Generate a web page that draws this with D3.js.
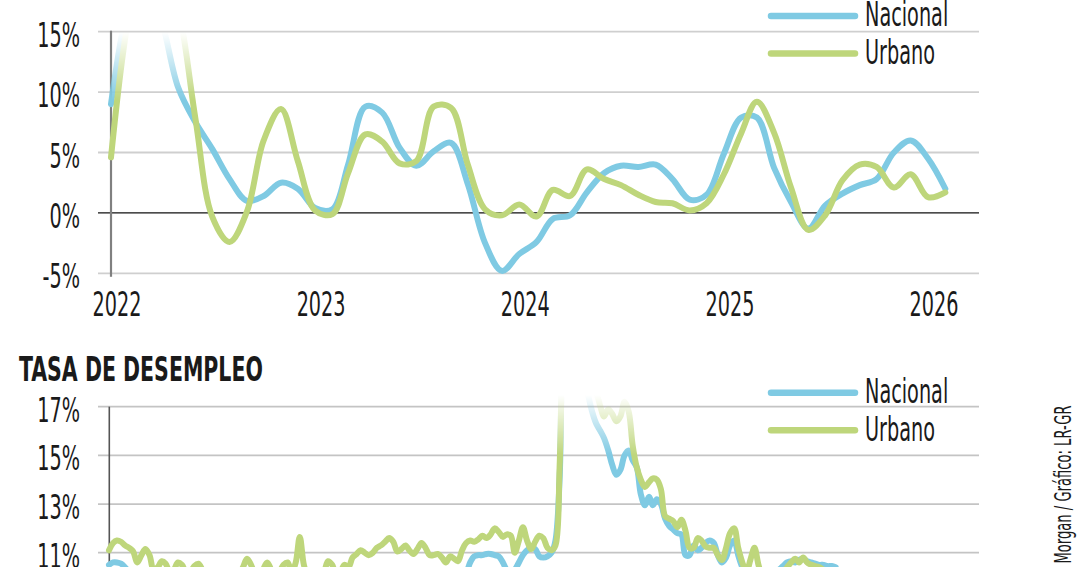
<!DOCTYPE html>
<html><head><meta charset="utf-8">
<script src="https://cdn.jsdelivr.net/npm/d3@7"></script>
<style>
html,body{margin:0;padding:0;background:#fff;}
svg{display:block;}
text{font-family:"Liberation Sans Narrow","DejaVu Sans Condensed","Liberation Sans",sans-serif;fill:#1a1a1a;}
</style></head><body>
<svg id="chart" width="1080" height="567"></svg>
<script>
// ---------- DATA ----------
const seriesNames = ["Nacional", "Urbano"];
const seriesColors = ["#7fcae3", "#bed67b"];

// Top panel: monthly, Jan 2022 - Feb 2026 (%)
const topStart = new Date(2022, 0, 1);
const topEnd = new Date(2026, 2, 1);
const topNacional = [
  9.0, 17, 19.5, 16, 10.4, 7.5, 5.3, 2.8, 1.0, 1.4, 2.5, 2.0,
  0.4, 0.3, 4.0, 8.8, 8.3, 5.4, 3.9, 5.1, 5.8, 2.4, -2.5, -4.8,
  -3.4, -2.4, -0.5, -0.2, 1.7, 3.3, 3.9, 3.8, 4.0, 2.8, 1.1, 1.5,
  4.9, 7.9, 7.9, 3.7, 0.9, -1.3, 0.6, 1.6, 2.3, 2.8, 5.0, 6.0,
  4.5, 2.0
];
const topUrbano = [
  4.6, 16, 21, 21, 17, 7.8, -0.3, -2.4, 0.1, 6.0, 8.6, 4.3,
  0.2, -0.1, 3.3, 6.5, 5.9, 4.1, 4.3, 8.8, 8.7, 4.0, 0.3, -0.2,
  0.7, -0.3, 1.9, 1.4, 3.6, 2.8, 2.3, 1.5, 0.9, 0.8, 0.2, 0.8,
  3.2, 6.6, 9.2, 6.6, 2.1, -1.4, -0.2, 2.7, 4.0, 3.8, 2.1, 3.2,
  1.3, 1.7
];
const topYears = [2022, 2023, 2024, 2025, 2026];
const topYTicks = [-5, 0, 5, 10, 15];

// Bottom panel: unemployment rate, monthly Jan 2011 - Dec 2025 (%)
const bottomTitle = "TASA DE DESEMPLEO";
const bottomStart = new Date(2011, 0, 1);
const bottomEnd = new Date(2026, 0, 1);
const bottomNacional = [
  10.5, 10.6, 10.6, 10.55, 10.4, 10.2, 10.0, 9.9, 9.8, 9.8, 9.9, 9.7,
  9.8, 9.9, 9.8, 9.7, 9.6, 9.7, 9.8, 9.6, 9.5, 9.6, 9.5, 9.4,
  9.5, 9.3, 9.4, 9.2, 9.3, 9.1, 9.2, 9.0, 9.1, 9.0, 8.9, 9.0,
  8.9, 8.8, 8.9, 8.8, 8.9, 9.0, 8.9, 9.0, 9.1, 9.0, 9.2, 9.4,
  9.2, 9.0, 9.1, 9.0, 9.2, 9.3, 9.2, 9.3, 9.2, 9.1, 9.2, 9.3,
  9.4, 9.5, 9.6, 9.5, 9.4, 9.5, 9.6, 9.7, 9.8, 9.9, 9.8, 9.6,
  9.7, 9.8, 9.7, 9.6, 9.7, 9.8, 9.7, 9.6, 9.7, 9.6, 9.5, 9.4,
  9.6, 9.5, 9.4, 9.7, 10.1, 10.6, 10.85, 10.9, 10.9, 10.95, 10.95, 10.9,
  10.85, 10.6, 10.3, 10.15, 10.3, 10.6, 10.9, 11.1, 11.2, 11.15, 10.85, 10.8,
  10.85, 11.0, 11.5, 14.0, 20.5, 21.5, 21.0, 20.0, 19.5, 18.5, 17.5, 16.8,
  16.3, 16.0, 15.7, 15.2, 14.6, 14.2, 14.4, 15.0, 15.2, 14.8, 14.5, 13.4,
  12.95, 13.3, 12.95, 13.2, 13.0, 12.4, 12.1, 11.95, 11.8, 11.75, 10.9, 10.9,
  11.3, 11.1, 11.2, 11.4, 11.5, 11.4, 10.9, 10.6, 10.8, 11.3, 11.5, 10.9,
  10.4, 10.1, 10.0, 10.1, 10.0, 9.9, 10.0, 10.1, 10.2, 10.3, 10.45, 10.6,
  10.65, 10.6, 10.7, 10.75, 10.65, 10.6, 10.55, 10.5, 10.5, 10.45, 10.45, 10.4
];
const bottomUrbano = [
  11.1, 11.4, 11.5, 11.45, 11.3, 11.2, 11.05, 10.6, 10.9, 11.15, 10.9, 10.3,
  10.4, 10.65, 10.55, 10.2, 10.3, 10.6, 10.5, 10.2, 10.2, 10.45, 10.55, 10.3,
  10.0, 9.9, 9.8, 9.9, 10.0, 9.9, 9.8, 9.9, 10.1, 10.4, 10.75, 10.5,
  10.1, 10.0, 10.3, 10.6, 10.3, 10.0, 10.2, 10.5, 10.6, 10.2, 10.6, 11.65,
  10.5, 10.0, 9.9, 10.0, 10.0, 10.2, 10.65, 10.5, 10.1, 10.2, 10.5, 10.4,
  10.8, 10.95, 11.1, 11.0, 10.9, 11.0, 11.2, 11.3, 11.45, 11.6, 11.45, 11.05,
  11.15, 11.3, 11.1, 10.95, 11.15, 11.4, 11.2, 10.9, 10.9, 10.95, 10.8, 10.6,
  10.85, 10.75, 10.65, 11.1, 11.4, 11.5, 11.45, 11.55, 11.7, 11.6, 11.75, 12.0,
  11.85, 11.65, 11.75, 11.7, 11.0, 11.5, 12.05, 11.5, 11.15, 11.45, 11.7, 11.6,
  11.2, 11.1, 11.3, 14.5, 21.5, 24.0, 23.5, 22.0, 21.0, 19.5, 18.5, 18.0,
  17.6, 17.0, 16.6, 16.9, 16.7, 16.4, 16.6, 17.2, 16.8, 15.4, 14.5, 14.0,
  13.7, 13.9, 14.05, 14.0, 13.6, 12.5, 12.4, 12.3, 12.05, 12.35, 11.9, 11.2,
  11.2, 11.6, 11.5, 11.25, 11.2, 11.2, 10.9, 10.7, 11.2, 11.8, 12.0, 11.2,
  10.6, 10.2, 10.7, 11.2, 10.5, 10.0, 9.9, 9.8, 9.9, 10.0, 10.2, 10.4,
  10.6, 10.75, 10.6, 10.8, 10.6, 10.5, 10.45, 10.4, 10.3, 10.25, 10.2, 10.2
];
const bottomYTicks = [11, 13, 15, 17];
const sourceText = "Morgan / Gráfico: LR-GR";

// ---------- DRAW ----------
const svg = d3.select("#chart");
const defs = svg.append("defs");

// condensed-font width factor, measured from a sample
function measure(str, size, weight) {
  const t = svg.append("text").attr("font-size", size).attr("font-weight", weight || "normal").text(str);
  const w = t.node().getComputedTextLength();
  t.remove();
  return w;
}
const sx = 49 / measure("2022", 33);
const sxBold = 244 / measure(bottomTitle, 34, "bold");

function addText(g, str, x, y, opt) {
  opt = opt || {};
  const s = opt.scale || sx;
  const rot = opt.rotate ? ` rotate(${opt.rotate})` : "";
  return g.append("text")
    .attr("transform", `translate(${x},${y})${rot} scale(${s},1)`)
    .attr("font-size", opt.size || 33)
    .attr("font-weight", opt.weight || "normal")
    .attr("text-anchor", opt.anchor || "start")
    .text(str);
}

function fadeMask(id, yClip, y0, y1, yBottom) {
  const gid = id + "-grad";
  const grad = defs.append("linearGradient").attr("id", gid)
    .attr("gradientUnits", "userSpaceOnUse")
    .attr("x1", 0).attr("x2", 0).attr("y1", y0).attr("y2", y1);
  grad.append("stop").attr("offset", 0).attr("stop-color", "#000");
  grad.append("stop").attr("offset", 1).attr("stop-color", "#fff");
  defs.append("mask").attr("id", id).attr("maskUnits", "userSpaceOnUse")
    .attr("x", 0).attr("y", 0).attr("width", 1080).attr("height", 567)
    .append("rect").attr("x", 0).attr("y", yClip).attr("width", 1080)
    .attr("height", yBottom - yClip).attr("fill", `url(#${gid})`);
}

const gridX1 = 98, gridX2 = 979;

// ===== TOP PANEL =====
const topDates = d3.timeMonth.range(topStart, topEnd);
const xTop = d3.scaleTime().domain([new Date(2022, 0, 1), new Date(2026, 0, 1)]).range([111, 928]);
const yTop = d3.scaleLinear().domain([-5, 15]).range([273.3, 31.7]);

const gTop = svg.append("g");
topYTicks.forEach(v => {
  gTop.append("line")
    .attr("x1", gridX1).attr("x2", gridX2)
    .attr("y1", yTop(v)).attr("y2", yTop(v))
    .attr("stroke", v === 0 ? "#111" : "#cfcfcf")
    .attr("stroke-width", v === 0 ? 1.3 : 1.8);
  addText(gTop, (v < 0 ? "-" + Math.abs(v) : v) + "%", 80, yTop(v) + 15, { anchor: "end" });
});
gTop.append("line").attr("x1", 111).attr("x2", 111)
  .attr("y1", yTop(15) - 1).attr("y2", yTop(-5) + 3.5)
  .attr("stroke", "#808080").attr("stroke-width", 2.2);
topYears.forEach(yr => {
  addText(gTop, String(yr), xTop(new Date(yr, 0, 1)) + 6, 315.7, { anchor: "middle" });
});

fadeMask("maskTop", 30, 32, 100, 300);
const lineTop = d3.line().x((d, i) => xTop(topDates[i])).y(d => yTop(d)).curve(d3.curveCatmullRom.alpha(0.5));
const gTopLines = gTop.append("g").attr("mask", "url(#maskTop)");
[topNacional, topUrbano].forEach((arr, k) => {
  gTopLines.append("path").datum(arr).attr("d", lineTop)
    .attr("fill", "none").attr("stroke", seriesColors[k])
    .attr("stroke-width", 6).attr("stroke-linecap", "round").attr("stroke-linejoin", "round");
});

// legend top
const legTopY = [16, 53.4];
seriesNames.forEach((n, k) => {
  gTop.append("line").attr("x1", 771).attr("x2", 855)
    .attr("y1", legTopY[k]).attr("y2", legTopY[k])
    .attr("stroke", seriesColors[k]).attr("stroke-width", 6.5).attr("stroke-linecap", "round");
  addText(gTop, n, 865, legTopY[k] + 10.3);
});

// ===== BOTTOM PANEL =====
const botDates = d3.timeMonth.range(bottomStart, bottomEnd);
const xBot = d3.scaleTime().domain([new Date(2011, 0, 1), new Date(2025, 11, 1)]).range([109, 835.7]);
const yBot = d3.scaleLinear().domain([11, 17]).range([552.7, 406.7]);

const gBot = svg.append("g");
addText(gBot, bottomTitle, 19, 381, { size: 34, weight: "bold", scale: sxBold });
bottomYTicks.forEach(v => {
  gBot.append("line")
    .attr("x1", gridX1).attr("x2", gridX2)
    .attr("y1", yBot(v)).attr("y2", yBot(v))
    .attr("stroke", "#c4c4c4").attr("stroke-width", 1.8);
  addText(gBot, v + "%", 80, yBot(v) + 15, { anchor: "end" });
});
gBot.append("line").attr("x1", 109.3).attr("x2", 109.3)
  .attr("y1", yBot(17)).attr("y2", 600)
  .attr("stroke", "#555").attr("stroke-width", 1.6);

fadeMask("maskBot", 392, 395, 455, 620);
const lineBot = d3.line().x((d, i) => xBot(botDates[i])).y(d => yBot(d)).curve(d3.curveCatmullRom.alpha(0.5));
const gBotLines = gBot.append("g").attr("mask", "url(#maskBot)");
[bottomNacional, bottomUrbano].forEach((arr, k) => {
  gBotLines.append("path").datum(arr).attr("d", lineBot)
    .attr("fill", "none").attr("stroke", seriesColors[k])
    .attr("stroke-width", 6).attr("stroke-linecap", "round").attr("stroke-linejoin", "round");
});

const legBotY = [392.7, 430.2];
seriesNames.forEach((n, k) => {
  gBot.append("line").attr("x1", 771).attr("x2", 855)
    .attr("y1", legBotY[k]).attr("y2", legBotY[k])
    .attr("stroke", seriesColors[k]).attr("stroke-width", 6.5).attr("stroke-linecap", "round");
  addText(gBot, n, 865, legBotY[k] + 10.3);
});

// source, rotated
addText(svg, sourceText, 1071, 405.5, { size: 22.5, rotate: -90, anchor: "end" });
</script>
</body></html>
